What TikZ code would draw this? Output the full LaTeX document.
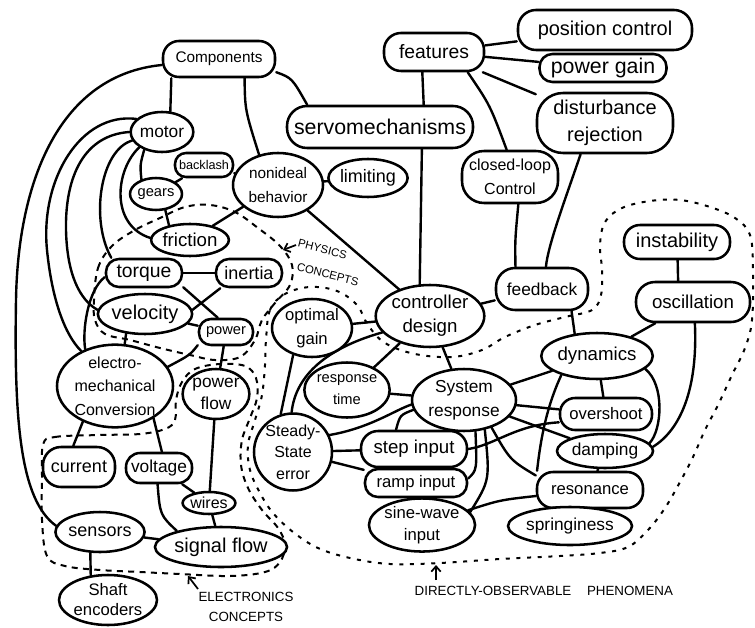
\documentclass[tikz,border=0pt]{standalone}
\usepackage{fontspec}
\setmainfont{Liberation Sans}
\usetikzlibrary{shapes.geometric,arrows.meta}
\newcommand\fsz[2]{\fontsize{#1}{#2}\selectfont}
\pgfdeclarelayer{bg}
\pgfsetlayers{bg,main}
\tikzset{
  nd/.style={draw, line width=1.9pt, fill=white, inner sep=0pt, align=center},
  el/.style 2 args={nd, ellipse, minimum width=#1*0.75pt, minimum height=#2*0.75pt},
  rr/.style n args={3}{nd, rectangle, rounded corners=#3*0.75pt, minimum width=#1*0.75pt, minimum height=#2*0.75pt},
  ed/.style={line width=1.8pt, line cap=round},
  dsh/.style={line width=1.5pt, dash pattern=on 4.5pt off 4pt},
  dsho/.style={line width=1.5pt, dash pattern=on 3pt off 5pt},
  lbl/.style={inner sep=0pt, align=center},
  arr/.style={line width=1.3pt, -{Straight Barb[length=4pt,width=7pt]}},
}
\begin{document}
\begin{tikzpicture}[x=0.75pt,y=-0.75pt]
\useasboundingbox (0,0) rectangle (755,627);
% nodes
\node[rr={112}{36}{16}, font=\fsz{11.5}{13}] (comp) at (219,59) {Components};
\node[rr={100}{38}{17}, font=\fsz{14.5}{16}] (feat) at (434,52) {features};
\node[rr={174}{40}{18}, font=\fsz{15}{17}] (posc) at (605,30) {position control};
\node[rr={127}{28}{13}, font=\fsz{16}{17}] (pgain) at (603,68) {power gain};
\node[rr={136}{60}{26}, font=\fsz{15}{20}] (dist) at (605,123) {disturbance\\rejection};
\node[rr={186}{42}{20}, font=\fsz{16}{18}] (servo) at (380,127) {servomechanisms};
\node[rr={96}{52}{22}, font=\fsz{12}{18}] (clc) at (510,177) {closed-loop\\Control};
\node[el={58}{40}, font=\fsz{13}{15}] (motor) at (162,132) {motor};
\node[rr={58}{24}{11}, font=\fsz{9.5}{11}] (backl) at (204,165) {backlash};
\node[el={52}{32}, font=\fsz{11}{13}] (gears) at (156,194) {gears};
\node[el={90}{64}, font=\fsz{11.5}{18}] (nonid) at (278,185) {nonideal\\behavior};
\node[el={75}{38}, font=\fsz{13.5}{15}] (limit) at (368,178) {limiting};
\node[el={76}{32}, font=\fsz{14}{16}] (fric) at (190,240) {friction};
\node[rr={76}{28}{13}, font=\fsz{14.5}{16}] (torque) at (144,273) {torque};
\node[rr={66}{28}{13}, font=\fsz{13.5}{15}] (inert) at (249,273) {inertia};
\node[el={90}{40}, font=\fsz{15}{17}] (veloc) at (145,314) {velocity};
\node[rr={54}{26}{12}, font=\fsz{11}{13}] (power) at (226,332) {power};
\node[el={116}{80}, font=\fsz{12}{17.5}] (electro) at (115,386) {electro-\\mechanical\\Conversion};
\node[el={64}{50}, font=\fsz{13}{17}] (pflow) at (216,394) {power\\flow};
\node[el={80}{58}, font=\fsz{12.5}{18}] (optg) at (312,328) {optimal\\gain};
\node[el={82}{55}, font=\fsz{11}{16.5}] (resp) at (347,390) {response\\time};
\node[el={100}{62}, font=\fsz{14}{18}] (ctrl) at (430,316) {controller\\design};
\node[rr={92}{42}{19}, font=\fsz{13}{15}] (feedb) at (542,289) {feedback};
\node[rr={106}{34}{16}, font=\fsz{15}{17}] (instab) at (677,242) {instability};
\node[rr={114}{40}{19}, font=\fsz{14}{16}] (oscil) at (693,302) {oscillation};
\node[el={110}{46}, font=\fsz{14}{16}] (dyn) at (597,356) {dynamics};
\node[el={104}{62}, font=\fsz{13}{18}] (sysr) at (464,400) {System\\response};
\node[rr={92}{32}{15}, font=\fsz{12.5}{14}] (overs) at (606,414) {overshoot};
\node[el={96}{34}, font=\fsz{13}{15}] (damp) at (605,451) {damping};
\node[rr={106}{36}{16}, font=\fsz{12.5}{14}] (reson) at (590,490) {resonance};
\node[el={114}{38}, font=\fsz{13}{15}] (spring) at (570,526) {springiness};
\node[el={78}{70}, font=\fsz{12}{16}] (sse) at (293,452) {Steady-\\State\\error};
\node[rr={106}{36}{17}, font=\fsz{14}{16}] (stepi) at (414,449) {step input};
\node[rr={102}{28}{13}, font=\fsz{12.5}{14}] (rampi) at (416,483) {ramp input};
\node[el={102}{46}, font=\fsz{12.5}{16.5}] (sine) at (422,525) {sine-wave\\input};
\node[rr={72}{40}{18}, font=\fsz{13.5}{15}] (curr) at (79,467) {current};
\node[rr={66}{30}{14}, font=\fsz{13}{15}] (volt) at (159,468) {voltage};
\node[el={52}{22}, font=\fsz{12}{14}] (wires) at (209,503) {wires};
\node[el={76}{40}, font=\fsz{13.5}{15}] (sens) at (100,532) {sensors};
\node[el={108}{40}, font=\fsz{15}{17}] (sigf) at (221,547) {signal flow};
\node[el={98}{50}, font=\fsz{12.5}{15}] (shaft) at (108,600) {Shaft\\encoders};
% labels
\node[lbl, anchor=west, rotate=-14, font=\fsz{8.5}{10}] (physl1) at (298,243) {PHYSICS};
\node[lbl, anchor=west, rotate=-14, font=\fsz{8.5}{10}] (physl2) at (297,267) {CONCEPTS};
\node[lbl, font=\fsz{10}{15}] (elecl) at (246,607) {ELECTRONICS\\CONCEPTS};
\node[lbl, font=\fsz{10}{11}] (dol1) at (493,591) {DIRECTLY-OBSERVABLE};
\node[lbl, font=\fsz{10}{11}] (dol2) at (630,591) {PHENOMENA};
\coordinate (pa0) at (296,245);
\coordinate (pa1) at (283,250);
\coordinate (ea0) at (198,589);
\coordinate (ea1) at (188,576);
\coordinate (da0) at (436,580);
\coordinate (da1) at (436,565);
\draw[arr] (pa0) -- (pa1);
\draw[arr] (ea0) -- (ea1);
\draw[arr] (da0) -- (da1);

\begin{pgfonlayer}{bg}
\fill[white] (0,0) rectangle (755,627);
% dashed regions
\draw[dsh] plot[smooth cycle, tension=0.6] coordinates {(94,300) (98,268) (112,246) (135,230) (160,218) (185,207) (210,205) (235,212) (258,228) (280,246) (292,265) (290,285) (275,303) (262,320) (255,340) (240,357) (215,360) (190,355) (160,348) (130,340) (105,334) (95,320)};
\draw[dsh] plot[smooth cycle, tension=0.6] coordinates {(43,445) (55,437) (100,435) (140,434) (165,429) (175,420) (176,400) (182,382) (195,369) (220,364) (245,366) (256,378) (257,398) (250,418) (242,440) (241,465) (248,488) (262,510) (278,528) (285,545) (280,562) (265,572) (230,576) (180,574) (140,572) (100,570) (65,566) (47,556) (42,520) (42,480)};
\draw[dsho] plot[smooth cycle, tension=0.6] coordinates {(266,340) (270,310) (285,294) (310,287) (337,291) (357,305) (368,325) (385,343) (415,354) (452,357) (482,350) (505,337) (535,325) (565,317) (592,310) (601,295) (602,270) (600,245) (605,222) (622,208) (650,201) (680,200) (710,207) (735,218) (750,235) (753,270) (752,320) (745,348) (732,375) (718,405) (705,430) (693,457) (680,482) (665,508) (648,530) (628,547) (600,553) (560,556) (500,559) (440,563) (390,564) (350,558) (318,548) (293,532) (273,513) (260,493) (250,470) (248,445) (255,420) (262,395) (265,365)};
% edges
\draw[ed] (comp.202) -- (motor.68);
\draw[ed] (comp.-37) .. controls (245,110) .. (nonid.122);
\draw[ed] (comp.-13) .. controls (292,78) .. (servo.163);
\draw[ed] (comp.186) .. controls (60,75) and (18,180) .. (16,300) .. controls (14,420) and (20,500) .. (sens.172);
\draw[ed] (motor.153) .. controls (80,112) and (40,180) .. (47,250) .. controls (52,300) and (65,335) .. (electro.134);
\draw[ed] (motor.180) .. controls (85,135) and (65,175) .. (66,230) .. controls (67,275) and (80,300) .. (veloc.175);
\draw[ed] (motor.196) .. controls (100,150) and (90,220) .. (torque.155);
\draw[ed] (motor.214) .. controls (115,170) and (110,225) .. (fric.177);
\draw[ed] (motor.225) .. controls (140,165) .. (gears.135);
\draw[ed] (gears) -- (backl);
\draw[ed] (backl) -- (nonid);
\draw[ed] (gears.-60) -- (fric.145);
\draw[ed] (nonid) -- (fric);
\draw[ed] (nonid) -- (limit);
\draw[ed] (nonid) -- (ctrl);
\draw[ed] (torque) -- (inert);
\draw[ed] (torque.-20) -- (power.120);
\draw[ed] (inert.208) -- (veloc.5);
\draw[ed] (veloc) -- (power);
\draw[ed] (veloc.226) -- (electro.77);
\draw[ed] (power.205) .. controls (190,355) .. (electro.20);
\draw[ed] (power) -- (pflow);
\draw[ed] (torque.186) .. controls (88,290) and (82,330) .. (electro.129);
\draw[ed] (electro.228) -- (curr.105);
\draw[ed] (electro.-40) -- (volt.80);
\draw[ed] (volt) -- (wires);
\draw[ed] (pflow) -- (wires);
\draw[ed] (wires) -- (sigf);
\draw[ed] (volt.-95) .. controls (160,515) .. (sigf.160);
\draw[ed] (sens) -- (sigf);
\draw[ed] (sens.245) -- (shaft.125);
\draw[ed] (feat) -- (posc);
\draw[ed] (feat) -- (pgain);
\draw[ed] (feat) -- (dist);
\draw[ed] (feat.240) -- (servo.27);
\draw[ed] (feat.-31) .. controls (490,105) .. (clc.97);
\draw[ed] (servo.-28) -- (ctrl.108);
\draw[ed] (clc.-73) .. controls (515,240) .. (feedb.140);
\draw[ed] (dist.232) .. controls (565,200) and (548,245) .. (feedb.80);
\draw[ed] (feedb) -- (ctrl);
\draw[ed] (feedb.-37) -- (dyn.135);
\draw[ed] (instab.-88) -- (oscil.125);
\draw[ed] (oscil) -- (dyn);
\draw[ed] (oscil.-85) .. controls (698,390) and (680,430) .. (damp.5);
\draw[ed] (dyn.-15) .. controls (665,385) and (662,430) .. (damp.10);
\draw[ed] (dyn) -- (overs);
\draw[ed] (dyn) -- (sysr);
\draw[ed] (dyn.208) .. controls (545,410) and (540,445) .. (reson.160);
\draw[ed] (damp) -- (reson);
\draw[ed] (reson) -- (spring);
\draw[ed] (sysr) -- (overs);
\draw[ed] (sysr) -- (damp);
\draw[ed] (sysr.-45) .. controls (510,460) .. (reson.165);
\draw[ed] (stepi.0) .. controls (495,445) and (515,425) .. (overs.190);
\draw[ed] (sysr.-70) .. controls (477,470) .. (rampi.5);
\draw[ed] (sysr.-55) .. controls (490,480) .. (sine.15);
\draw[ed] (stepi.133) .. controls (400,415) .. (sysr.191);
\draw[ed] (sysr) -- (resp);
\draw[ed] (sse.25) .. controls (370,428) and (395,410) .. (sysr.185);
\draw[ed] (sysr) -- (ctrl);
\draw[ed] (ctrl.222) -- (resp.40);
\draw[ed] (ctrl) -- (optg);
\draw[ed] (ctrl.199) .. controls (320,350) and (295,380) .. (sse.92);
\draw[ed] (optg.235) -- (sse.108);
\draw[ed] (sse) -- (stepi);
\draw[ed] (sse) -- (rampi);
\draw[ed] (sine) .. controls (500,500) .. (reson);
\end{pgfonlayer}
\end{tikzpicture}
\end{document}
